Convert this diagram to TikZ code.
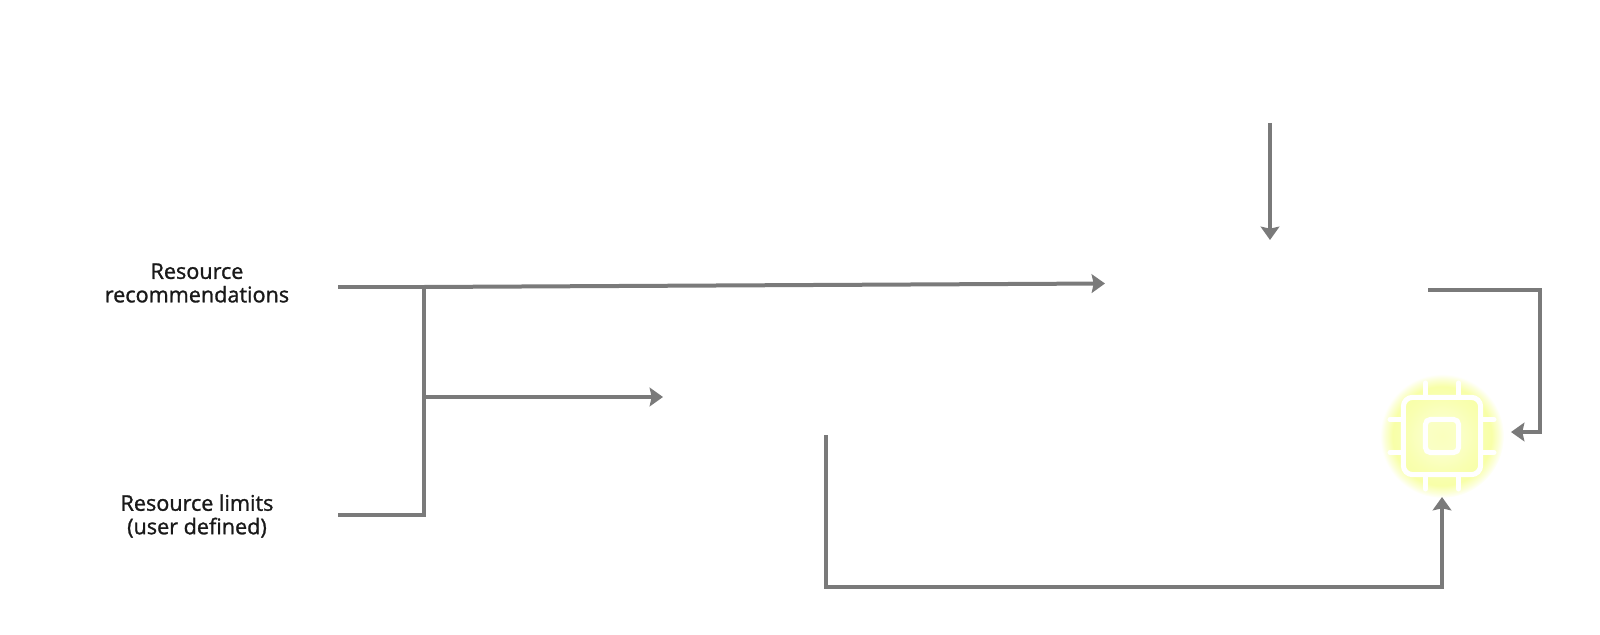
\documentclass[tikz,border=0pt]{standalone}
\usepackage{fontspec}
\setmainfont{Open Sans}[FakeBold=1.2]
\usetikzlibrary{arrows.meta}
\definecolor{linegray}{HTML}{7A7A7A}
\definecolor{glowyellow}{HTML}{F8FFA8}
\pgfdeclareradialshading{chipglow}{\pgfpointorigin}{
  color(0bp)=(glowyellow!75!white); color(8bp)=(glowyellow!65!white);
  color(15bp)=(glowyellow!90!white); color(20bp)=(glowyellow);
  color(23bp)=(glowyellow!45!white); color(25bp)=(white); color(50bp)=(white)}
\tikzstyle{conn} = [draw=linegray,line width=3pt]
\tikzstyle{arrow} = [conn,-{Stealth[length=10pt,width=14pt,inset=1.5pt]}]
\tikzstyle{lbl} = [align=center,font=\fontsize{16.2}{17.6}\selectfont,inner sep=0pt,text=black!90]
\tikzstyle{chipline} = [draw=white,line width=3.8pt,line cap=round]

\begin{document}
\begin{tikzpicture}[x=0.75pt,y=-0.75pt]

  \useasboundingbox (0,0) rectangle (1600,635);

  \node[lbl] (recs) at (197,283) {Resource\\recommendations};
  \node[lbl] (limits) at (197,516) {Resource limits\\(user defined)};

  \foreach \x/\y/\name in {338/287/recsout, 424/287/top, 338/515/limitsout, 424/515/bottom,
      424/397/mid, 663/397/midend, 1105/283.5/topend, 1270/123/feed, 1270/240/feedend,
      1428/290/rightout, 826/435/lowout}
        \coordinate (\name) at (\x,\y);

  % chip
  \shade[shading=chipglow] (1442,436) circle (62);
  \node[minimum size=58pt,inner sep=0pt,rounded corners=7pt,chipline] (chip) at (1442,436) {};
  \node[minimum size=25pt,inner sep=0pt,rounded corners=4pt,chipline] (core) at (1442,436) {};
  \foreach \d in {-16.5,16.5} {
    \draw[chipline] (1442+\d,396) -- (1442+\d,383);
    \draw[chipline] (1442+\d,476) -- (1442+\d,489);
    \draw[chipline] (1402,436+\d) -- (1390,436+\d);
    \draw[chipline] (1482,436+\d) -- (1494,436+\d);
  }

  % connectors
  \draw[conn] (recsout) -- (top);
  \draw[conn] (limitsout) -- (bottom) -- (top);
  \draw[arrow] (top) -- (topend);
  \draw[arrow] (mid) -- (midend);
  \draw[arrow] (feed) -- (feedend);
  \draw[arrow] (rightout) -| (1540,432) -- (1511,432);
  \draw[arrow] (lowout) |- (1442,587) -- (1442,497);

\end{tikzpicture}
\end{document}
